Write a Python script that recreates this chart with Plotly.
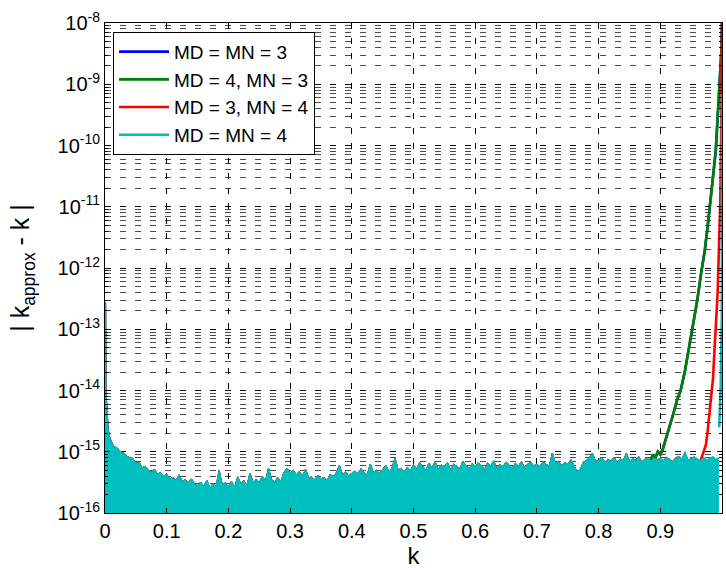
import plotly.graph_objects as go

# Shared round-off noise floor |k_approx - k| (units of 1e-16), sampled in k.
head_k = [0.0, 0.001, 0.0018, 0.003, 0.005, 0.007]
head_err = [2700, 2700, 90, 50, 25, 18]

body_k0, body_dk = 0.01, 0.005
body_err = [
    15, 12, 11.5, 10, 9.5, 8.5, 8, 7.8, 6.5, 6.8, 5.5, 5.8, 5, 4.6, 5.2, 4.3, 4.6, 4.0,
    4.3, 3.6, 3.8, 3.4, 4.2, 3.3, 3.5, 3.1, 3.6, 3.0, 2.8, 3.2, 2.7, 3.4, 2.6, 3.0, 2.7, 5.0, 2.9, 3.1,
    2.7, 3.3, 2.6, 3.9, 3.0, 3.4, 2.8, 4.5, 3.2, 3.6, 3.1, 4.0, 3.3, 5.4, 3.5, 3.2, 3.8, 3.3, 4.6, 5.4,
    4.5, 5.0, 4.2, 4.8, 4.0, 5.2, 3.7, 3.9, 3.5, 4.1, 3.6, 3.8, 3.4, 4.3, 3.9, 4.6, 6.0, 4.2, 4.7, 4.0,
    4.5, 4.8, 4.4, 5.3, 4.5, 4.2, 6.3, 4.6, 5.0, 4.4, 5.1, 6.0, 4.8, 5.4, 7.9, 5.0, 5.4, 4.7, 5.6, 4.9,
    6.2, 5.2, 6.7, 5.8, 5.0, 6.5, 5.4, 6.9, 5.1, 6.1, 5.7, 6.7, 5.0, 6.3, 5.8, 5.3, 7.0, 5.9, 5.2, 6.4,
    5.6, 6.7, 6.0, 5.1, 6.6, 5.8, 7.1, 5.3, 6.2, 5.7, 6.8, 6.1, 5.4, 6.5, 5.8, 6.9, 5.5, 6.3, 6.7, 5.9,
    6.3, 5.7, 6.9, 6.2, 5.8, 9.5, 6.5, 7.0, 6.0, 6.7, 6.2, 7.4, 5.9, 4.8, 5.0, 6.7, 7.2, 8.0, 9.5, 6.9,
    7.3, 8.0, 6.8, 7.5, 7.0, 8.2, 6.6, 7.7, 7.1, 9.5, 6.9, 7.8, 7.3, 8.3, 6.8, 7.6, 8.0, 7.1, 7.8, 7.4,
    7.8, 7.2, 8.2, 7.5, 7.0, 8.0, 8.4, 7.6, 10.0, 7.3, 7.9, 8.3, 7.7, 7.1, 8.1, 7.5, 7.8, 8.4, 7.7,
    8.0, 11,
]

# Error growth near k -> 1 for each (MD, MN) combination.
green_k = [0.884, 0.888, 0.892, 0.896, 0.900, 0.904, 0.908, 0.912, 0.920, 0.927, 0.933,
           0.940, 0.946, 0.953, 0.960, 0.966, 0.972, 0.977, 0.982, 0.986, 0.990, 0.992,
           0.9946, 0.9965, 0.998, 0.9993, 1.0]
green_err = [7e-16, 9e-16, 8e-16, 1.0e-15, 9e-16, 1.1e-15, 1.5e-15, 2.0e-15, 3.8e-15, 6.9e-15,
             1.0e-14, 2.1e-14, 4.6e-14, 1.2e-13, 3.0e-13, 8e-13, 1.9e-12, 5e-12, 1.3e-11,
             3.5e-11, 8.5e-11, 2.0e-10, 4.9e-10, 1.0e-9, 1.6e-9, 4e-9, 1e-8]
blue_k = green_k
blue_err = green_err

red_k = [0.965, 0.969, 0.971, 0.974, 0.977, 0.980, 0.983, 0.9855, 0.9875, 0.990, 0.993,
         0.9957, 0.997, 0.9985, 0.9993, 1.0]
red_err = [7e-16, 9e-16, 1.05e-15, 1.3e-15, 2.3e-15, 4.5e-15, 1e-14, 1.6e-14, 4e-14, 1.4e-13,
           4e-13, 3.7e-12, 1e-11, 1e-10, 1e-9, 1e-8]

cyan_k = [0.9955, 0.998, 0.9993, 0.9997, 0.99985, 1.0]
cyan_err = [2.5e-15, 1.26e-14, 1e-13, 1.6e-13, 1e-11, 7e-10]

series = [
    ("MD = MN = 3", "#0000ff", blue_k, blue_err),
    ("MD = 4, MN = 3", "#008000", green_k, green_err),
    ("MD = 3, MN = 4", "#ff0000", red_k, red_err),
    ("MD = MN = 4", "#00bfbf", cyan_k, cyan_err),
]

y_tickvals = [10.0 ** p for p in range(-16, -7)]
y_ticktext = ["10<sup>%d</sup>" % p for p in range(-16, -7)]
x_tickvals = [i / 10 for i in range(11)]
x_ticktext = ["0", "0.1", "0.2", "0.3", "0.4", "0.5", "0.6", "0.7", "0.8", "0.9", "1"]

floor_k = head_k + [round(body_k0 + body_dk * i, 4) for i in range(len(body_err))]
floor_err = [v * 1e-16 for v in head_err + body_err]

fig = go.Figure()
for name, color, tk, te in series:
    nk = [k for k in floor_k if k < tk[0]]
    ne = floor_err[:len(nk)]
    fig.add_trace(go.Scatter(
        x=nk, y=ne, mode="lines", fill="tozeroy", fillcolor=color,
        line=dict(color=color, width=1), showlegend=False, hoverinfo="skip"))
    fig.add_trace(go.Scatter(
        x=tk, y=te, mode="lines", name=name,
        line=dict(color=color, width=2.6)))

font = "Liberation Sans, Arial, sans-serif"
grid_dash = "6px,9px"

fig.update_layout(
    width=726, height=570,
    margin=dict(l=105, r=4, t=23, b=57),
    paper_bgcolor="white", plot_bgcolor="white",
    font=dict(family=font, size=20, color="black"),
    showlegend=True,
    legend=dict(
        x=0.013, y=0.982, xanchor="left", yanchor="top",
        bgcolor="white", bordercolor="black", borderwidth=1,
        font=dict(family=font, size=19, color="black"),
        itemwidth=50, tracegroupgap=0,
    ),
    xaxis=dict(
        range=[0, 1], tickvals=x_tickvals, ticktext=x_ticktext,
        showline=True, linecolor="black", linewidth=1, mirror="allticks",
        ticks="inside", ticklen=5, tickcolor="black",
        showgrid=True, gridcolor="black", gridwidth=1, griddash=grid_dash,
        zeroline=False,
        title=dict(text="k", font=dict(size=24), standoff=2),
        tickfont=dict(size=20),
    ),
    yaxis=dict(
        type="log", range=[-16, -8], tickvals=y_tickvals, ticktext=y_ticktext,
        showline=True, linecolor="black", linewidth=1, mirror="allticks",
        ticks="inside", ticklen=5, tickcolor="black",
        showgrid=True, gridcolor="black", gridwidth=1, griddash=grid_dash,
        minor=dict(dtick="D1", showgrid=True, gridcolor="rgba(0,0,0,0.7)",
                   griddash=grid_dash, gridwidth=1,
                   ticks="inside", ticklen=3, tickcolor="black"),
        zeroline=False,
        title=dict(text="| k<sub>approx</sub> - k |", font=dict(size=25), standoff=20),
        tickfont=dict(size=20),
    ),
)

fig.write_html("out.html")
